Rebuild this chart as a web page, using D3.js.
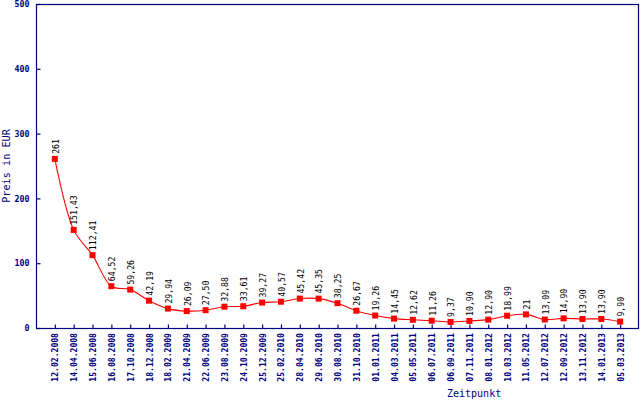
<!DOCTYPE html>
<html><head><meta charset="utf-8">
<script src="https://cdn.jsdelivr.net/npm/d3@7"></script>
<style>html,body{margin:0;padding:0;background:#fff}svg{display:block}</style>
</head><body>
<svg id="c" width="640" height="400"></svg>
<script>
const dates = ["12.02.2008","14.04.2008","15.06.2008","16.08.2008","17.10.2008","18.12.2008","18.02.2009","21.04.2009","22.06.2009","23.08.2009","24.10.2009","25.12.2009","25.02.2010","28.04.2010","29.06.2010","30.08.2010","31.10.2010","01.01.2011","04.03.2011","05.05.2011","06.07.2011","06.09.2011","07.11.2011","08.01.2012","10.03.2012","11.05.2012","12.07.2012","12.09.2012","13.11.2012","14.01.2013","05.03.2013"];
const prices = [261,151.43,112.41,64.52,59.26,42.19,29.94,26.09,27.50,32.88,33.61,39.27,40.57,45.42,45.35,38.25,26.67,19.26,14.45,12.62,11.26,9.37,10.90,12.90,18.99,21,13.09,14.90,13.90,13.90,9.90];
const yTicks = [0,100,200,300,400,500];

const navy = "#000080";
const mono = "'DejaVu Sans Mono', monospace";
const svg = d3.select("#c");
const L = 36, R = 639, T = 4, B = 328;

const x = d3.scalePoint().domain(dates).range([L, R]).padding(1);
const y = d3.scaleLinear().domain([0, 500]).range([B, T]);

// frame
svg.append("rect").attr("x", L + 0.5).attr("y", T + 0.5)
  .attr("width", R - L - 1).attr("height", B - T)
  .attr("fill", "none").attr("stroke", navy).attr("stroke-width", 1.2);

// y axis
const gy = svg.append("g").attr("transform", `translate(${L + 0.5},0)`)
  .call(d3.axisLeft(y).tickValues(yTicks).tickSize(-4).tickPadding(7).tickFormat(d3.format("d")));
gy.select(".domain").remove();
gy.selectAll("line").attr("stroke", navy).attr("stroke-width", 1.2);
gy.selectAll("text").attr("fill", navy).attr("font-family", mono).attr("font-size", 8.3).attr("font-weight", "bold");

// x axis
const gx = svg.append("g").attr("transform", `translate(0,${B + 0.5})`)
  .call(d3.axisBottom(x).tickSize(-4).tickFormat(""));
gx.select(".domain").remove();
gx.selectAll("line").attr("stroke", navy).attr("stroke-width", 1.2);

svg.append("g").selectAll("text").data(dates).join("text")
  .attr("transform", d => `translate(${x(d) + 3.5},${B + 5}) rotate(-90)`)
  .attr("text-anchor", "end")
  .attr("fill", navy).attr("font-family", mono).attr("font-size", 8.1).attr("font-weight", "bold")
  .text(d => d);

// axis titles
svg.append("text").attr("transform", "translate(10,166) rotate(-90)")
  .attr("text-anchor", "middle").attr("fill", navy).attr("font-family", mono).attr("font-size", 10.2)
  .text("Preis in EUR");
svg.append("text").attr("x", 447).attr("y", 397)
  .attr("fill", navy).attr("font-family", mono).attr("font-size", 10)
  .text("Zeitpunkt");

// line
const pts = dates.map((d, i) => [d, prices[i]]);
svg.append("path").datum(pts)
  .attr("fill", "none").attr("stroke", "#ff0000").attr("stroke-width", 1.1)
  .attr("d", d3.line().x(d => x(d[0])).y(d => y(d[1])).curve(d3.curveCatmullRom.alpha(0.5)));

// markers
svg.append("g").selectAll("rect").data(pts).join("rect")
  .attr("x", d => x(d[0]) - 3).attr("y", d => y(d[1]) - 3)
  .attr("width", 6).attr("height", 6).attr("fill", "#ff0000");

// value labels
const fmt = v => Number.isInteger(v) ? String(v) : v.toFixed(2).replace(".", ",");
svg.append("g").selectAll("text").data(pts).join("text")
  .attr("transform", d => `translate(${x(d[0]) + 3.8},${y(d[1]) - 5}) rotate(-90)`)
  .attr("text-anchor", "start")
  .attr("fill", "#000").attr("font-family", mono).attr("font-size", 8.2)
  .text(d => fmt(d[1]));
</script>
</body></html>
